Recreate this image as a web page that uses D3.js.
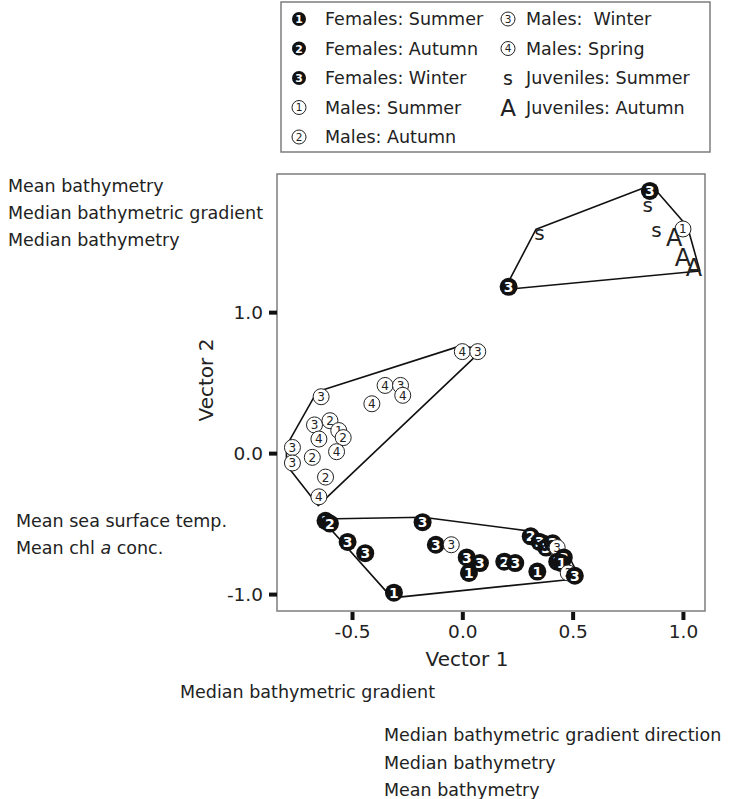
<!DOCTYPE html>
<html>
<head>
<meta charset="utf-8">
<script src="https://cdn.jsdelivr.net/npm/d3@7"></script>
<style>
  body { margin: 0; background: #fff; }
  text { font-family: 'DejaVu Sans', sans-serif; fill: #222; }
</style>
</head>
<body>
<div id="chart"></div>
<script>
// groups: F = filled (females), M = open (males), J = letter (juveniles)
var groupKeys = ['F1', 'F2', 'F3', 'M1', 'M2', 'M3', 'M4', 'JS', 'JA']
var groupLabels = ['Females: Summer', 'Females: Autumn', 'Females: Winter',
  'Males: Summer', 'Males: Autumn', 'Males:  Winter', 'Males: Spring',
  'Juveniles: Summer', 'Juveniles: Autumn']

// top-right cluster
var topX = [0.85, 0.84, 0.35, 0.88, 1.00, 0.96, 1.00, 1.05, 0.21]
var topY = [1.86, 1.76, 1.56, 1.58, 1.59, 1.53, 1.39, 1.32, 1.18]
var topG = ['F3', 'JS', 'JS', 'JS', 'M1', 'JA', 'JA', 'JA', 'F3']

// left cluster (males)
var leftX = [0.00, 0.07, -0.64, -0.35, -0.28, -0.27, -0.41, -0.67, -0.60, -0.56, -0.54, -0.65, -0.57, -0.77, -0.77, -0.68, -0.62, -0.65]
var leftY = [0.72, 0.72, 0.40, 0.48, 0.48, 0.41, 0.35, 0.20, 0.23, 0.16, 0.11, 0.10, 0.01, 0.04, -0.07, -0.03, -0.17, -0.31]
var leftG = ['M4', 'M3', 'M3', 'M4', 'M3', 'M4', 'M4', 'M3', 'M2', 'M1', 'M2', 'M4', 'M4', 'M3', 'M3', 'M2', 'M2', 'M4']

// bottom cluster (females)
var botX = [-0.62, -0.60, -0.18, -0.52, -0.44, -0.12, -0.05, 0.02, 0.08, 0.03, 0.19, 0.24, 0.34, 0.31, 0.35, 0.38, 0.41, 0.43, 0.46, 0.43, 0.45, 0.48, 0.51, -0.31]
var botY = [-0.48, -0.50, -0.49, -0.63, -0.71, -0.65, -0.65, -0.74, -0.78, -0.85, -0.77, -0.78, -0.84, -0.59, -0.63, -0.67, -0.64, -0.67, -0.74, -0.77, -0.78, -0.85, -0.87, -0.99]
var botG = ['F1', 'F2', 'F3', 'F3', 'F3', 'F3', 'M3', 'F3', 'F3', 'F1', 'F2', 'F3', 'F1', 'F2', 'F3', 'F3', 'F2', 'M3', 'F3', 'F1', 'F1', 'M3', 'F3', 'F1']

var xTicks = [-0.5, 0.0, 0.5, 1.0]
var yTicks = [-1.0, 0.0, 1.0]

var leftNotesTop = ['Mean bathymetry', 'Median bathymetric gradient', 'Median bathymetry']
var bottomNotes = ['Median bathymetric gradient direction', 'Median bathymetry', 'Mean bathymetry']

var svg = d3.select('#chart').append('svg')
  .attr('width', 735)
  .attr('height', 799)

var x = d3.scaleLinear().domain([-0.84, 1.1]).range([277, 705])
var y = d3.scaleLinear().domain([-1.12, 1.98]).range([611, 174])

// hyphen instead of unicode minus, like the original
var fmt = function (d) { return d3.format('.1f')(d).replace('\u2212', '-') }

// frame
svg.append('rect')
  .attr('x', x.range()[0]).attr('y', y.range()[1])
  .attr('width', x.range()[1] - x.range()[0])
  .attr('height', y.range()[0] - y.range()[1])
  .attr('fill', 'none').attr('stroke', '#7d7d7d').attr('stroke-width', 1.5)

// axes
svg.append('g')
  .attr('transform', 'translate(277,0)')
  .call(d3.axisLeft(y).tickValues(yTicks).tickSize(8).tickPadding(6).tickFormat(fmt))
svg.append('g')
  .attr('transform', 'translate(0,612)')
  .call(d3.axisBottom(x).tickValues(xTicks).tickSize(8).tickPadding(5).tickFormat(fmt))
svg.selectAll('.domain').remove()
svg.selectAll('.tick line').attr('stroke', '#111').attr('stroke-width', 4)
svg.selectAll('.tick text').attr('font-size', 18.5).attr('font-family', 'DejaVu Sans, sans-serif').attr('fill', '#222')

svg.append('text')
  .attr('transform', 'translate(206,380) rotate(-90)')
  .attr('text-anchor', 'middle').attr('dy', '0.35em')
  .attr('font-size', 20)
  .text('Vector 2')
svg.append('text')
  .attr('x', 467).attr('y', 659)
  .attr('text-anchor', 'middle').attr('dy', '0.35em')
  .attr('font-size', 20)
  .text('Vector 1')

// offset a hull outward by d pixels (miter capped)
function offsetHull (pts, d) {
  var n = pts.length
  var sign = d3.polygonArea(pts) > 0 ? 1 : -1
  var out = []
  for (var i = 0; i < n; i++) {
    var p0 = pts[(i - 1 + n) % n], p1 = pts[i], p2 = pts[(i + 1) % n]
    var n1 = normal(p0, p1, sign), n2 = normal(p1, p2, sign)
    var k = Math.max(1 + n1[0] * n2[0] + n1[1] * n2[1], 0.9)
    out.push([p1[0] + d * (n1[0] + n2[0]) / k, p1[1] + d * (n1[1] + n2[1]) / k])
  }
  return out
}
function normal (a, b, sign) {
  var dx = b[0] - a[0], dy = b[1] - a[1]
  var len = Math.sqrt(dx * dx + dy * dy)
  return [sign * -dy / len, sign * dx / len]
}

var clusters = [
  { xs: topX, ys: topY, gs: topG, pad: 5 },
  { xs: leftX, ys: leftY, gs: leftG, pad: 6 },
  { xs: botX, ys: botY, gs: botG, pad: 5 }
]

var line = d3.line().curve(d3.curveLinearClosed)

clusters.forEach(function (c) {
  var pts = c.xs.map(function (v, i) { return [x(v), y(c.ys[i])] })
  var hull = d3.polygonHull(pts)
  svg.append('path')
    .attr('d', line(offsetHull(hull, c.pad)))
    .attr('fill', 'none').attr('stroke', '#111').attr('stroke-width', 1.6)
    .attr('stroke-linejoin', 'round')
})

function drawSymbol (g, key, cx, cy, r, big) {
  var kind = key[0]
  var digit = key[1]
  if (kind === 'F') {
    g.append('circle').attr('cx', cx).attr('cy', cy).attr('r', r).attr('fill', '#111')
    g.append('text').attr('x', cx).attr('y', cy).attr('dy', '0.37em')
      .attr('text-anchor', 'middle').attr('font-weight', 'bold')
      .attr('font-size', r * 1.55).style('fill', '#fff').text(digit)
  } else if (kind === 'M') {
    g.append('circle').attr('cx', cx).attr('cy', cy).attr('r', r)
      .attr('fill', '#fff').attr('stroke', '#222').attr('stroke-width', 1)
    g.append('text').attr('x', cx).attr('y', cy).attr('dy', '0.37em')
      .attr('text-anchor', 'middle')
      .attr('font-size', r * 1.5).style('fill', '#222').text(digit)
  } else if (key === 'JS') {
    g.append('text').attr('x', cx).attr('y', cy).attr('dy', '0.35em')
      .attr('text-anchor', 'middle').attr('font-size', big ? 20 : 19).text('s')
  } else {
    g.append('text').attr('x', cx).attr('y', cy).attr('dy', '0.36em')
      .attr('text-anchor', 'middle').attr('font-size', big ? 24 : 23).text('A')
  }
}

var marks = svg.append('g')
clusters.forEach(function (c) {
  c.xs.forEach(function (v, i) {
    var key = c.gs[i]
    drawSymbol(marks, key, x(v), y(c.ys[i]), key[0] === 'F' ? 9 : 8, true)
  })
})

// legend
var legend = svg.append('g')
legend.append('rect')
  .attr('x', 281).attr('y', 2).attr('width', 429).attr('height', 150)
  .attr('fill', '#fff').attr('stroke', '#7d7d7d').attr('stroke-width', 1.5)

var rowY = d3.scaleLinear().domain([0, 1]).range([19, 48.5])
groupKeys.forEach(function (k, i) {
  var col = i < 5 ? 0 : 1
  var row = i < 5 ? i : i - 5
  var sx = col === 0 ? 299 : 508
  var tx = col === 0 ? 325 : 526
  var cy = rowY(row)
  drawSymbol(legend, k, sx, cy, 7, false)
  legend.append('text')
    .attr('x', tx).attr('y', cy).attr('dy', '0.36em')
    .attr('font-size', 17.5)
    .style('white-space', 'pre')
    .text(groupLabels[i])
})

// variable notes
leftNotesTop.forEach(function (t, i) {
  svg.append('text').attr('x', 8).attr('y', 186 + i * 27).attr('dy', '0.36em')
    .attr('font-size', 17.5).text(t)
})
var sst = svg.append('text').attr('x', 16).attr('y', 521).attr('dy', '0.36em').attr('font-size', 17.5)
sst.text('Mean sea surface temp.')
var chl = svg.append('text').attr('x', 16).attr('y', 548).attr('dy', '0.36em').attr('font-size', 17.5)
chl.append('tspan').text('Mean chl ')
chl.append('tspan').attr('font-style', 'italic').text('a')
chl.append('tspan').text(' conc.')

svg.append('text').attr('x', 180).attr('y', 692).attr('dy', '0.36em')
  .attr('font-size', 17.5).text('Median bathymetric gradient')
bottomNotes.forEach(function (t, i) {
  svg.append('text').attr('x', 384).attr('y', 735 + i * 27.5).attr('dy', '0.36em')
    .attr('font-size', 17.5).text(t)
})
</script>
</body>
</html>
